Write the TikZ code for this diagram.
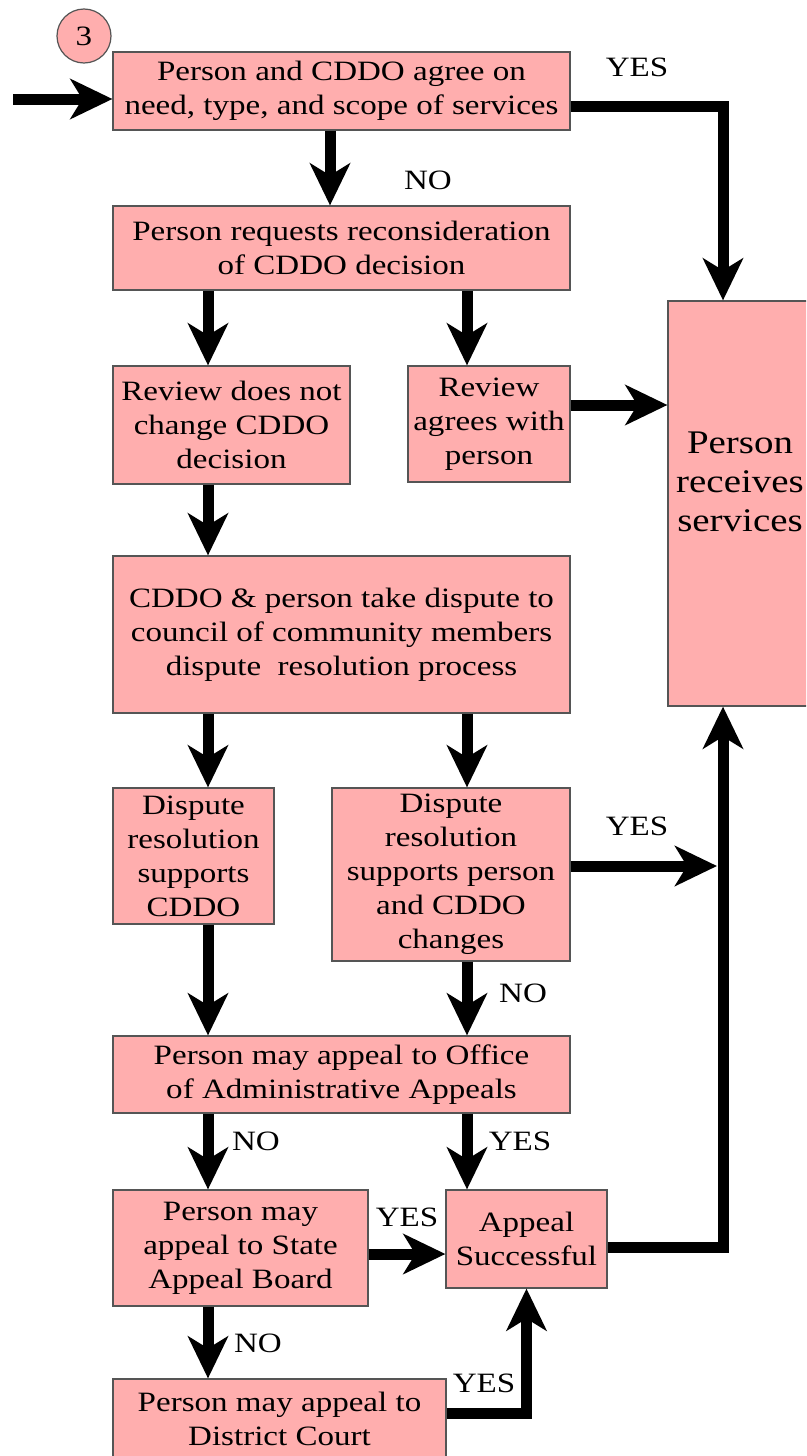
\documentclass[tikz,border=0pt]{standalone}
\usepackage{fontspec}
\setmainfont[FakeStretch=1.18]{Liberation Serif}
\usepackage{xcolor}
\usepackage{tikz}
\usetikzlibrary{arrows.meta, positioning}
\definecolor{boxpink}{RGB}{255,174,174}
\definecolor{boxline}{RGB}{85,85,85}
\tikzstyle{process} = [rectangle,
inner sep=0pt,
align=center,
draw=boxline,
line width=1.2pt,
fill=boxpink,
font=\fontsize{28}{34}\selectfont]
\tikzstyle{tag} = [inner sep=0pt,
font=\fontsize{28}{34}\selectfont]
\tikzstyle{arrow} = [line width=11pt, line join=miter,
-{Stealth[length=42pt, width=40pt, inset=12pt]}]

\begin{document}
\begin{tikzpicture}[x=1pt, y=-1pt]
                \useasboundingbox (0,0) rectangle (806,1456);
                \clip (0,0) rectangle (806,1456);
                \coordinate (colL) at (208,0);
                \coordinate (colM) at (330,0);
                \coordinate (colR) at (467,0);
                \coordinate (start) at (13,99);
                \coordinate (turn) at (723,106);
                \coordinate (rail) at (723,0);
                \coordinate (hit) at (717,866);

                \node (num) [circle, draw=boxline, line width=1.2pt, fill=boxpink, minimum size=54pt, inner sep=0pt, tag] at (84,36) {3};
                \node (agree) [process, minimum width=457pt, minimum height=78pt] at (341.5,91) {Person and CDDO agree on\\need, type, and scope of services};
                \node (reconsider) [process, minimum width=457pt, minimum height=84pt] at (341.5,248) {Person requests reconsideration\\of CDDO decision};
                \node (nochange) [process, minimum width=237pt, minimum height=118pt] at (231.5,425) {Review does not\\change CDDO\\decision};
                \node (agreeswith) [process, minimum width=162pt, minimum height=116pt] at (489,424) {Review\\agrees with\\person};
                \node (receives) [process, minimum width=144pt, minimum height=405pt, text depth=44pt, font=\fontsize{33}{39}\selectfont] at (740,503.5) {Person\\receives\\services};
                \node (council) [process, minimum width=457pt, minimum height=157pt] at (341.5,634.5) {CDDO \& person take dispute to\\council of community members\\dispute\ \ resolution process};
                \node (supports) [process, minimum width=161pt, minimum height=136pt] at (193.5,856) {Dispute\\resolution\\supports\\CDDO};
                \node (supportsp) [process, minimum width=238pt, minimum height=173pt] at (451,874.5) {Dispute\\resolution\\supports person\\and CDDO\\changes};
                \node (oaa) [process, minimum width=457pt, minimum height=77pt] at (341.5,1074.5) {Person may appeal to Office\\of Administrative Appeals};
                \node (stateboard) [process, minimum width=255pt, minimum height=116pt] at (240.5,1248) {Person may\\appeal to State\\Appeal Board};
                \node (success) [process, minimum width=161pt, minimum height=98pt] at (526.5,1239) {Appeal\\Successful};
                \node (court) [process, minimum width=333pt, minimum height=79pt] at (279.5,1418.5) {Person may appeal to\\District Court};

                \node (yesA) [tag] at (637,67) {YES};
                \node (noA) [tag] at (428,180) {NO};
                \node (yesB) [tag] at (637,826) {YES};
                \node (noB) [tag] at (523,993) {NO};
                \node (noC) [tag] at (256,1141) {NO};
                \node (yesC) [tag] at (520,1141) {YES};
                \node (yesD) [tag] at (407,1217) {YES};
                \node (noD) [tag] at (258,1343) {NO};
                \node (yesE) [tag] at (484,1383) {YES};

                \draw [arrow] (start) -- (agree.west |- start);
                \draw [arrow] (agree.east |- turn) -| (receives.north -| turn);
                \draw [arrow] (agree.south -| colM) -- (reconsider.north -| colM);
                \draw [arrow] (reconsider.south -| colL) -- (nochange.north -| colL);
                \draw [arrow] (reconsider.south -| colR) -- (agreeswith.north -| colR);
                \draw [arrow] ([yshift=19pt]agreeswith.east) -- ([yshift=19pt]agreeswith.east -| receives.west);
                \draw [arrow] (nochange.south -| colL) -- (council.north -| colL);
                \draw [arrow] (council.south -| colL) -- (supports.north -| colL);
                \draw [arrow] (council.south -| colR) -- (supportsp.north -| colR);
                \draw [arrow] (supportsp.east |- hit) -- (hit);
                \draw [arrow] (supports.south -| colL) -- (oaa.north -| colL);
                \draw [arrow] (supportsp.south -| colR) -- (oaa.north -| colR);
                \draw [arrow] (oaa.south -| colL) -- (stateboard.north -| colL);
                \draw [arrow] (oaa.south -| colR) -- (success.north -| colR);
                \draw [arrow] ([yshift=-6pt]stateboard.east) -- ([yshift=-6pt]stateboard.east -| success.west);
                \draw [arrow] (stateboard.south -| colL) -- (court.north -| colL);
                \draw [arrow] ([yshift=5pt]court.east) -| (success.south);
                \draw [arrow] ([yshift=-8pt]success.east) -| (receives.south -| rail);
            \end{tikzpicture}
\end{document}
